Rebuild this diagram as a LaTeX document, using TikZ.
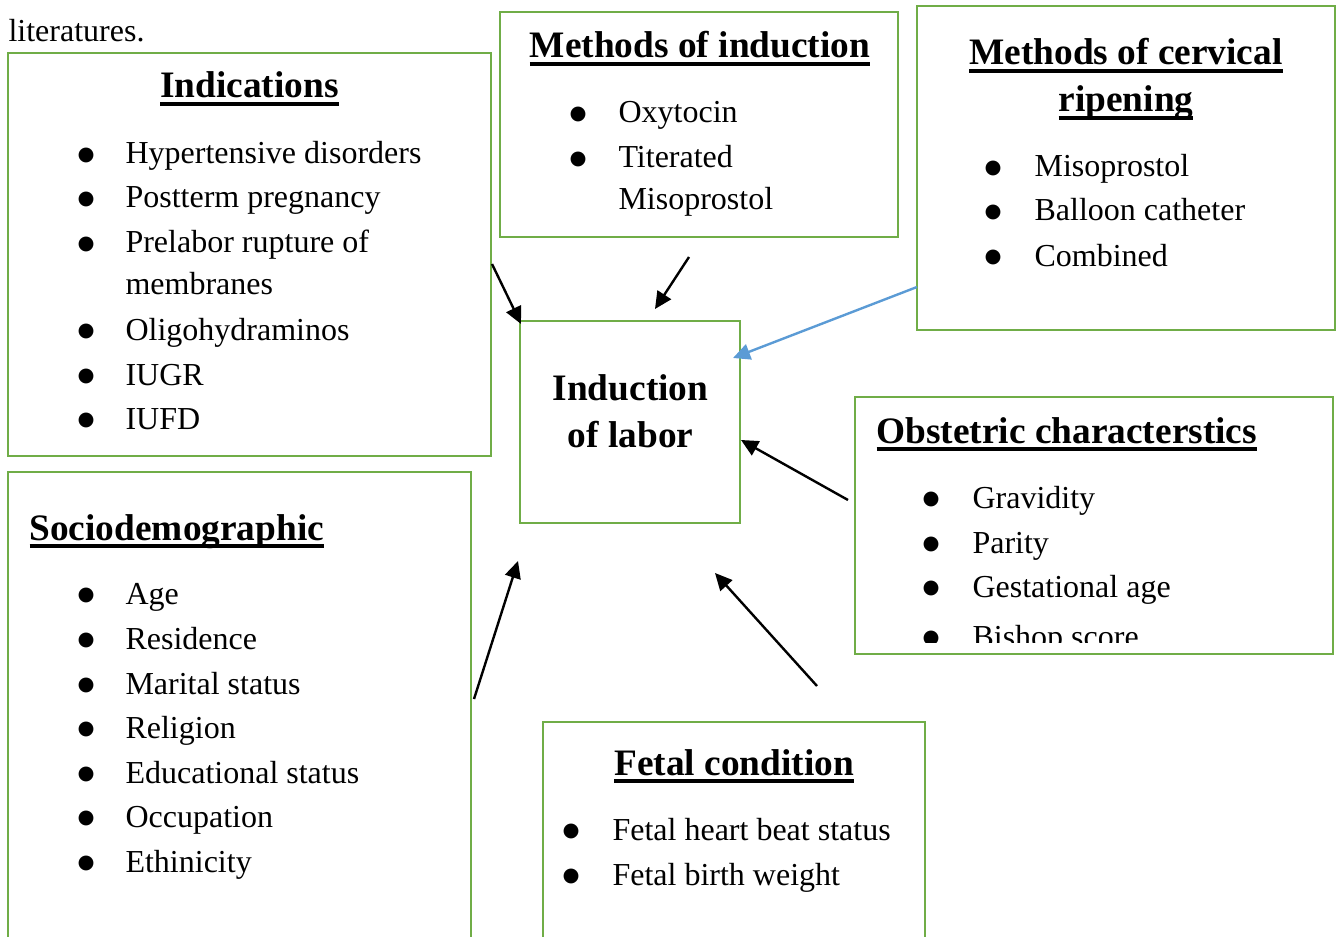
\documentclass[tikz,border=0pt]{standalone}
\usepackage{fontspec}
\setmainfont{Liberation Serif}
\newfontfamily\dejavu{DejaVu Sans}
\usetikzlibrary{arrows.meta,fit}
\definecolor{boxgreen}{HTML}{70AD47}
\definecolor{arrblue}{HTML}{5B9BD5}
\newcommand\hul[1]{\setbox0\hbox{#1}\rlap{\vrule height -1.5pt depth 3.0pt width \wd0}\box0}
\newcommand\bigbul{\raisebox{1.2pt}{\dejavu\fontsize{7.3}{8}\selectfont ●}}
\begin{document}
\begin{tikzpicture}[x=0.375pt,y=-0.375pt,
 box/.style={draw=boxgreen, line width=1.05pt, inner sep=0pt},
 body/.style={anchor=base west, inner sep=0pt, font=\fontsize{12}{14}\selectfont},
 bul/.style={anchor=base, inner sep=0pt, font=\fontsize{12}{14}\selectfont},
 head/.style={anchor=base, inner sep=0pt, font=\fontsize{14}{16}\selectfont\bfseries},
 headw/.style={anchor=base west, inner sep=0pt, font=\fontsize{14}{16}\selectfont\bfseries},
 arr/.style={line width=0.9pt, -{Triangle[length=6.4pt,width=6pt]}},
]
\useasboundingbox (0,0) rectangle (1340,937);
\clip (0,0) rectangle (1340,937);

\node[body] (lit) at (8,42) {literatures.};

% Boxes
\node[box, fit={(8,53) (491,456)}] (indbox) {};
\node[box, fit={(500,12) (898,237)}] (methbox) {};
\node[box, fit={(917,6) (1335,330)}] (ripebox) {};
\node[box, fit={(520,321) (740,523)}] (iolbox) {};
\node[box, fit={(855,397) (1333,654)}] (obsbox) {};
\node[box, fit={(8,472) (471,960)}] (socbox) {};
\node[box, fit={(543,722) (925,960)}] (fetbox) {};

% Indications
\node[head] (indh) at (249.5,98) {\hul{Indications}};
\foreach \t/\y [count=\i] in {Hypertensive disorders/164, Postterm pregnancy/208, Prelabor rupture of/253, Oligohydraminos/340, IUGR/385, IUFD/429}{
  \node[bul] (indb\i) at (86,\y) {\bigbul};
  \node[body] (indt\i) at (125,\y) {\t};
}
\node[body] (indt2b) at (125,295) {membranes};

% Methods of induction
\node[head] (methh) at (700,58) {\hul{Methods of induction}};
\node[bul] (methb1) at (578,123) {\bigbul};
\node[body] (metht1) at (618,123) {Oxytocin};
\node[bul] (methb2) at (578,168) {\bigbul};
\node[body] (metht2) at (618,168) {Titerated};
\node[body] (metht3) at (618,210) {Misoprostol};

% Cervical ripening
\node[head] (ripeh1) at (1126,65) {\hul{Methods of cervical}};
\node[head] (ripeh2) at (1126,112) {\hul{ripening}};
\foreach \t/\y [count=\i] in {Misoprostol/177, Balloon catheter/221, Combined/266}{
  \node[bul] (ripeb\i) at (993,\y) {\bigbul};
  \node[body] (ripet\i) at (1034,\y) {\t};
}

% Induction of labor
\node[head] (iol1) at (630.5,400) {Induction};
\node[head] (iol2) at (630.5,447) {of labor};

% Obstetric
\node[headw] (obsh) at (876,443) {\hul{Obstetric characterstics}};
\begin{scope}
\clip (856,400) rectangle (1332,642);
\foreach \t/\y [count=\i] in {Gravidity/508, Parity/553, Gestational age/597, Bishop score/647}{
  \node[bul] (obsb\i) at (931,\y) {\bigbul};
  \node[body] (obst\i) at (972,\y) {\t};
}
\end{scope}

% Sociodemographic
\node[headw] (soch) at (29,540) {\hul{Sociodemographic}};
\foreach \t/\y [count=\i] in {Age/604, Residence/649, Marital status/694, Religion/738, Educational status/783, Occupation/827, Ethinicity/872}{
  \node[bul] (socb\i) at (86,\y) {\bigbul};
  \node[body] (soct\i) at (125,\y) {\t};
}

% Fetal condition
\node[head] (feth) at (734,775) {\hul{Fetal condition}};
\foreach \t/\y [count=\i] in {Fetal heart beat status/840, Fetal birth weight/885}{
  \node[bul] (fetb\i) at (571,\y) {\bigbul};
  \node[body] (fett\i) at (612,\y) {\t};
}

% Arrows
\coordinate (a1s) at (492,264); \coordinate (a1e) at (521,324);
\coordinate (a2s) at (689,257); \coordinate (a2e) at (655,309);
\coordinate (a3s) at (917,287); \coordinate (a3e) at (733,358);
\coordinate (a4s) at (848,500); \coordinate (a4e) at (741,440);
\coordinate (a5s) at (474,699); \coordinate (a5e) at (518,561);
\coordinate (a6s) at (817,686); \coordinate (a6e) at (715,573);
\draw[arr] (a1s) -- (a1e);
\draw[arr] (a2s) -- (a2e);
\draw[arr, draw=arrblue, fill=arrblue] (a3s) -- (a3e);
\draw[arr] (a4s) -- (a4e);
\draw[arr] (a5s) -- (a5e);
\draw[arr] (a6s) -- (a6e);
\end{tikzpicture}
\end{document}
